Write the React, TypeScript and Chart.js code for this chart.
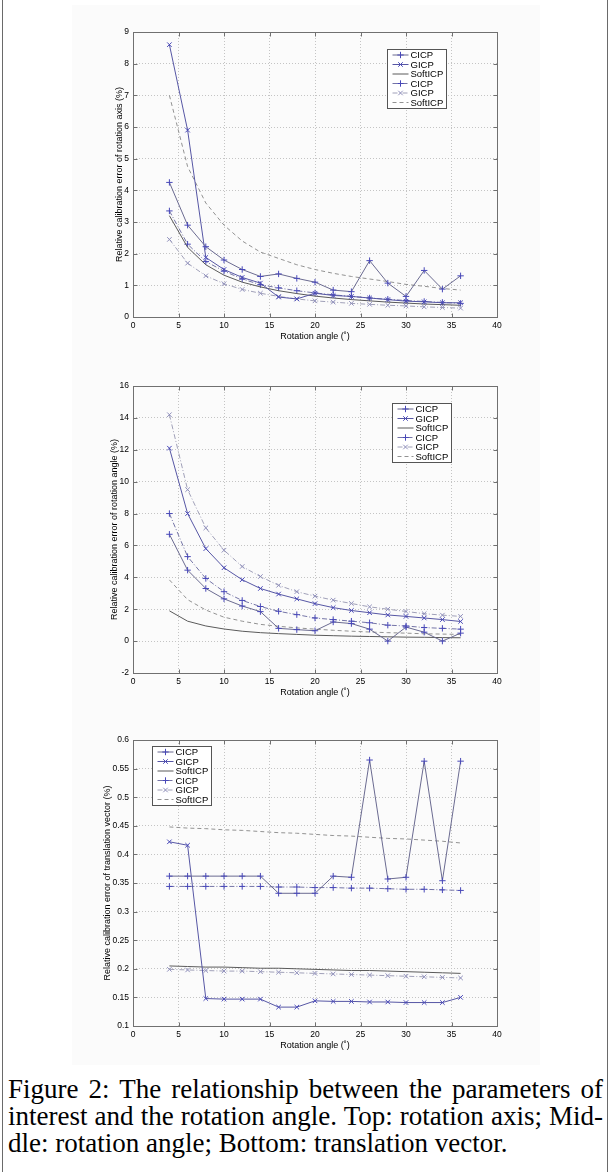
import React, { useEffect, useRef } from "react";
import { Chart, registerables } from "chart.js";

Chart.register(...registerables);

// ---------------- data ----------------
const angles = [4, 6, 8, 10, 12, 14, 16, 18, 20, 22, 24, 26, 28, 30, 32, 34, 36];
const seriesNames = ["CICP", "GICP", "SoftICP", "CICP", "GICP", "SoftICP"];
const xTicksStep = 5;
const xTitle = "Rotation angle (\u02DA)";

// Top: rotation axis
const axisCicp = [4.25, 2.9, 2.22, 1.8, 1.5, 1.28, 1.36, 1.22, 1.1, 0.85, 0.8, 1.78, 1.07, 0.65, 1.47, 0.88, 1.3];
const axisGicp = [8.6, 5.9, 1.88, 1.5, 1.25, 1.07, 0.63, 0.57, 0.75, 0.68, 0.65, 0.6, 0.55, 0.5, 0.48, 0.45, 0.45];
const axisSoft = [3.2, 2.2, 1.65, 1.32, 1.1, 0.95, 0.83, 0.74, 0.66, 0.6, 0.55, 0.51, 0.47, 0.44, 0.41, 0.39, 0.37];
const axisCicp2 = [3.35, 2.3, 1.75, 1.45, 1.2, 1.02, 0.92, 0.83, 0.76, 0.7, 0.65, 0.6, 0.56, 0.52, 0.49, 0.46, 0.43];
const axisGicp2 = [2.45, 1.7, 1.3, 1.05, 0.87, 0.75, 0.65, 0.57, 0.51, 0.47, 0.43, 0.4, 0.37, 0.35, 0.32, 0.3, 0.28];
const axisSoft2 = [7.0, 4.75, 3.6, 2.9, 2.4, 2.05, 1.85, 1.65, 1.5, 1.38, 1.28, 1.2, 1.12, 1.03, 0.97, 0.9, 0.85];

// Middle: rotation angle
const angCicp = [6.7, 4.45, 3.3, 2.65, 2.2, 1.85, 0.8, 0.72, 0.65, 1.2, 1.1, 0.75, 0.0, 0.88, 0.56, 0.0, 0.5];
const angGicp = [12.1, 8.0, 5.8, 4.6, 3.85, 3.3, 2.95, 2.65, 2.35, 2.1, 1.92, 1.78, 1.64, 1.55, 1.45, 1.35, 1.23];
const angSoft = [1.9, 1.25, 0.95, 0.76, 0.62, 0.53, 0.47, 0.42, 0.37, 0.34, 0.31, 0.29, 0.27, 0.25, 0.24, 0.22, 0.21];
const angCicp2 = [8.0, 5.3, 3.93, 3.1, 2.55, 2.17, 1.87, 1.66, 1.45, 1.35, 1.25, 1.15, 1.0, 0.95, 0.85, 0.8, 0.75];
const angGicp2 = [14.2, 9.5, 7.1, 5.7, 4.68, 4.05, 3.5, 3.1, 2.82, 2.57, 2.36, 2.15, 2.0, 1.86, 1.72, 1.63, 1.55];
const angSoft2 = [3.84, 2.6, 1.95, 1.5, 1.25, 1.05, 0.93, 0.83, 0.75, 0.68, 0.62, 0.57, 0.53, 0.5, 0.46, 0.44, 0.42];

// Bottom: translation vector
const trCicp = [0.362, 0.362, 0.362, 0.362, 0.362, 0.362, 0.332, 0.332, 0.332, 0.362, 0.36, 0.565, 0.357, 0.36, 0.563, 0.354, 0.563];
const trGicp = [0.422, 0.416, 0.148, 0.147, 0.147, 0.147, 0.133, 0.133, 0.144, 0.143, 0.143, 0.142, 0.142, 0.141, 0.141, 0.141, 0.15];
const trSoft = [0.205, 0.204, 0.203, 0.203, 0.202, 0.201, 0.201, 0.2, 0.199, 0.198, 0.197, 0.197, 0.196, 0.195, 0.194, 0.193, 0.192];
const trCicp2 = [0.344, 0.344, 0.344, 0.344, 0.344, 0.344, 0.343, 0.343, 0.342, 0.342, 0.341, 0.341, 0.34, 0.339, 0.339, 0.338, 0.337];
const trGicp2 = [0.199, 0.198, 0.197, 0.196, 0.196, 0.195, 0.194, 0.193, 0.192, 0.191, 0.19, 0.189, 0.188, 0.187, 0.186, 0.185, 0.184];
const trSoft2 = [0.448, 0.446, 0.445, 0.443, 0.442, 0.44, 0.438, 0.437, 0.435, 0.433, 0.432, 0.43, 0.428, 0.427, 0.425, 0.423, 0.42];

// ---------------- styles ----------------
type SeriesStyle = { line: string; dash: number[]; marker: string | null; markerColor: string; radius: number };
const seriesStyles: SeriesStyle[] = [
  { line: "#6a6a90", dash: [], marker: "cross", markerColor: "#4848b8", radius: 3.2 },
  { line: "#5656a4", dash: [], marker: "crossRot", markerColor: "#4848b8", radius: 3.2 },
  { line: "#5a5a5a", dash: [], marker: null, markerColor: "#5a5a5a", radius: 0 },
  { line: "#7474a6", dash: [5, 2, 1, 2], marker: "cross", markerColor: "#4848b8", radius: 3.2 },
  { line: "#a0a0b8", dash: [5, 2, 1, 2], marker: "crossRot", markerColor: "#9090bc", radius: 3.2 },
  { line: "#929292", dash: [4, 3], marker: null, markerColor: "#929292", radius: 0 },
];

const FONT = "'Liberation Sans', Arial, Helvetica, sans-serif";
const tickFont = { family: FONT, size: 8.5, lineHeight: "10px" };
const titleFont = { family: FONT, size: 9, lineHeight: "10px" };

type Panel = {
  key: string;
  top: number;
  height: number;
  padTop: number;
  padLeft: number;
  padBottom: number;
  yWidth: number;
  yMin: number;
  yMax: number;
  yStep: number;
  yTitle: string;
  series: number[][];
  legendX: number;
  legendY: number;
};

const panels: Panel[] = [
  {
    key: "axis", top: 0, height: 350, padTop: 32, padLeft: 115, padBottom: 8, yWidth: 18,
    yMin: 0, yMax: 9, yStep: 1, yTitle: "Relative calibration error of rotation axis (%)",
    series: [axisCicp, axisGicp, axisSoft, axisCicp2, axisGicp2, axisSoft2], legendX: 254, legendY: 17,
  },
  {
    key: "angle", top: 350, height: 360, padTop: 36, padLeft: 110, padBottom: 12, yWidth: 23,
    yMin: -2, yMax: 16, yStep: 2, yTitle: "Relative calibration error of rotation angle (%)",
    series: [angCicp, angGicp, angSoft, angCicp2, angGicp2, angSoft2], legendX: 259, legendY: 17,
  },
  {
    key: "trans", top: 710, height: 350, padTop: 30, padLeft: 103, padBottom: 9, yWidth: 30,
    yMin: 0.1, yMax: 0.6, yStep: 0.05, yTitle: "Relative calibration error of translation vector (%)",
    series: [trCicp, trGicp, trSoft, trCicp2, trGicp2, trSoft2], legendX: 19, legendY: 6,
  },
];

function drawMarker(ctx: CanvasRenderingContext2D, kind: string | null, x: number, y: number, r: number) {
  if (!kind) return;
  ctx.beginPath();
  if (kind === "cross") {
    ctx.moveTo(x - r, y); ctx.lineTo(x + r, y);
    ctx.moveTo(x, y - r); ctx.lineTo(x, y + r);
  } else {
    const d = r * Math.SQRT1_2;
    ctx.moveTo(x - d, y - d); ctx.lineTo(x + d, y + d);
    ctx.moveTo(x - d, y + d); ctx.lineTo(x + d, y - d);
  }
  ctx.stroke();
}

const matlabPlugin = {
  id: "matlabFrame",
  afterDatasetsDraw(chart: any, _args: any, opts: any) {
    const { ctx, chartArea: a, scales } = chart;
    const L = Math.round(a.left) + 0.5, R = Math.round(a.right) + 0.5;
    const T = Math.round(a.top) + 0.5, B = Math.round(a.bottom) + 0.5;
    ctx.save();
    ctx.setLineDash([]);
    ctx.strokeStyle = "#707070";
    ctx.lineWidth = 1;
    ctx.strokeRect(L, T, R - L, B - T);
    // inward ticks
    const tl = 4;
    ctx.beginPath();
    for (const t of scales.x.ticks) {
      const px = Math.round(scales.x.getPixelForValue(t.value)) + 0.5;
      ctx.moveTo(px, B); ctx.lineTo(px, B - tl);
      ctx.moveTo(px, T); ctx.lineTo(px, T + tl);
    }
    for (const t of scales.y.ticks) {
      const py = Math.round(scales.y.getPixelForValue(t.value)) + 0.5;
      ctx.moveTo(L, py); ctx.lineTo(L + tl, py);
      ctx.moveTo(R, py); ctx.lineTo(R - tl, py);
    }
    ctx.stroke();

    // legend box
    const lx = Math.round(a.left + opts.legendX) + 0.5;
    const ly = Math.round(a.top + opts.legendY) + 0.5;
    const w = 59, rowH = 9.5, h = 59;
    ctx.fillStyle = "#ffffff";
    ctx.fillRect(lx, ly, w, h);
    ctx.strokeStyle = "#555555";
    ctx.strokeRect(lx, ly, w, h);
    ctx.font = `9.5px ${FONT}`;
    ctx.textBaseline = "middle";
    ctx.textAlign = "left";
    chart.data.datasets.forEach((ds: any, i: number) => {
      const st = seriesStyles[i];
      const cy = ly + 5.5 + i * rowH;
      ctx.strokeStyle = st.line;
      ctx.lineWidth = 1;
      ctx.setLineDash(st.dash);
      ctx.beginPath();
      ctx.moveTo(lx + 5, cy); ctx.lineTo(lx + 21, cy);
      ctx.stroke();
      ctx.setLineDash([]);
      ctx.strokeStyle = st.markerColor;
      drawMarker(ctx, st.marker, lx + 13, cy, st.radius);
      ctx.fillStyle = "#000";
      ctx.fillText(ds.label, lx + 23, cy + 0.5);
    });
    ctx.restore();
  },
};

function fmtTick(v: number) {
  return String(Math.round(v * 100) / 100);
}

function buildConfig(p: Panel): any {
  const datasets = p.series.map((vals, i) => {
    const st = seriesStyles[i];
    return {
      label: seriesNames[i],
      data: angles.map((a, j) => ({ x: a, y: vals[j] })),
      borderColor: st.line,
      borderWidth: 1,
      borderDash: st.dash,
      pointStyle: st.marker || "circle",
      pointRadius: st.marker ? st.radius : 0,
      pointBorderColor: st.markerColor,
      pointBackgroundColor: "rgba(0,0,0,0)",
      pointBorderWidth: 1,
      tension: 0,
      fill: false,
    };
  });
  const gridOpts = { color: "#c4c4c4", lineWidth: 1, drawTicks: false };
  const borderOpts = { display: false, dash: [1, 2] };
  return {
    type: "line",
    data: { datasets },
    plugins: [matlabPlugin],
    options: {
      responsive: false,
      animation: false,
      events: [],
      layout: { padding: { top: p.padTop, left: p.padLeft, right: 114, bottom: p.padBottom } },
      plugins: {
        legend: { display: false },
        tooltip: { enabled: false },
        matlabFrame: { legendX: p.legendX, legendY: p.legendY },
      },
      scales: {
        x: {
          type: "linear",
          min: 0,
          max: 40,
          afterFit: (s: any) => { s.height = 25; },
          ticks: { stepSize: xTicksStep, padding: 4, color: "#000", font: tickFont, maxRotation: 0, autoSkip: false },
          grid: gridOpts,
          border: borderOpts,
          title: { display: true, text: xTitle, color: "#000", font: titleFont, padding: 0 },
        },
        y: {
          type: "linear",
          min: p.yMin,
          max: p.yMax,
          afterFit: (s: any) => { s.width = p.yWidth; },
          ticks: { stepSize: p.yStep, padding: 4, color: "#000", font: tickFont, autoSkip: false, callback: (v: any) => fmtTick(Number(v)) },
          grid: gridOpts,
          border: borderOpts,
          title: { display: true, text: p.yTitle, color: "#000", font: titleFont, padding: 0 },
        },
      },
    },
  };
}

function PanelChart({ p }: { p: Panel }) {
  const ref = useRef<HTMLCanvasElement | null>(null);
  useEffect(() => {
    if (!ref.current) return;
    const chart = new Chart(ref.current, buildConfig(p));
    return () => chart.destroy();
  }, [p]);
  return (
    <canvas
      ref={ref}
      width={611}
      height={p.height}
      style={{ position: "absolute", left: 0, top: p.top, width: 611, height: p.height, display: "block" }}
    />
  );
}

export default function App() {
  return (
    <div style={{ position: "absolute", left: 0, top: 0, width: 611, height: 1172, background: "#fff", overflow: "hidden" }}>
      <div style={{ position: "absolute", left: 72, top: 5, width: 468, height: 1060, background: "#fbfbfb" }} />
      <div style={{ position: "absolute", left: 2, top: 0, width: 1, height: 1172, background: "#6a6a6a" }} />
      <div style={{ position: "absolute", left: 607, top: 0, width: 1, height: 1172, background: "#6a6a6a" }} />
      {panels.map((p) => (
        <PanelChart key={p.key} p={p} />
      ))}
      <div
        style={{
          position: "absolute",
          left: 8,
          top: 1076,
          width: 595,
          fontFamily: "'Liberation Serif', 'Times New Roman', Times, serif",
          fontSize: 27,
          lineHeight: "27px",
          color: "#000",
        }}
      >
        <div style={{ textAlign: "justify", textAlignLast: "justify" }}>Figure 2: The relationship between the parameters of</div>
        <div style={{ textAlign: "justify", textAlignLast: "justify" }}>interest and the rotation angle. Top: rotation axis; Mid-</div>
        <div style={{ textAlign: "left" }}>dle: rotation angle; Bottom: translation vector.</div>
      </div>
    </div>
  );
}
